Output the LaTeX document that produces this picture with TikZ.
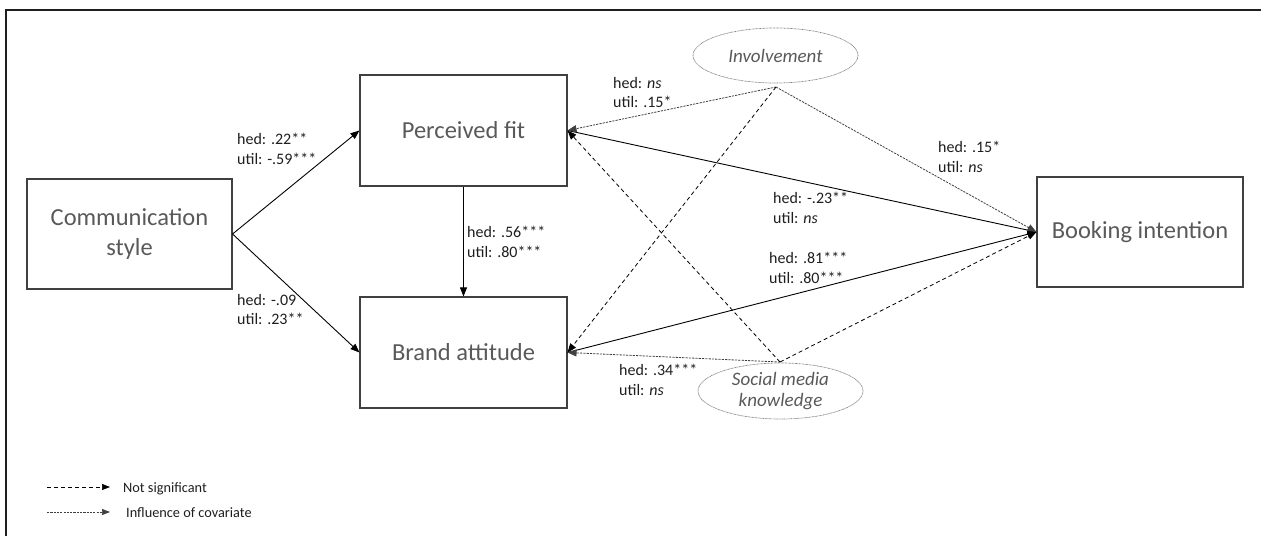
\documentclass[tikz,border=0pt]{standalone}
\usepackage{fontspec}
\setmainfont{Carlito}
\usetikzlibrary{arrows.meta,shapes.geometric}
\definecolor{boxtext}{HTML}{595959}
\definecolor{boxline}{HTML}{404040}
\definecolor{labtext}{HTML}{1E1E1E}
\definecolor{covline}{HTML}{404040}
\begin{document}
\begin{tikzpicture}[x=1pt,y=-1pt,
  varbox/.style={draw=boxline,line width=1.1pt,rectangle,inner sep=0pt,
    minimum width=206pt,minimum height=110pt,text=boxtext,align=center,
    font=\fontsize{24.5}{29.5}\selectfont},
  covell/.style={draw=gray,line width=0.7pt,dash pattern=on 0.8pt off 0.6pt,ellipse,inner sep=0pt,
    minimum width=165pt,minimum height=55pt,text=boxtext,align=center,
    font=\fontsize{19}{22}\selectfont\itshape},
  path/.style={draw=black,line width=0.9pt,-{Triangle[length=9pt,width=7pt]}},
  nsig/.style={path,dash pattern=on 4pt off 3pt,line width=0.8pt},
  cov/.style={path,dash pattern=on 2.2pt off 1.1pt,line width=0.8pt,draw=covline},
  lab/.style={anchor=north west,inner sep=0pt,align=left,text=labtext,
    font=\fontsize{16}{19.5}\selectfont},
  leg/.style={anchor=base west,inner sep=0pt,text=labtext,font=\fontsize{14.3}{17}\selectfont}]
\useasboundingbox (0,0) rectangle (1261,536);
% frame
\coordinate (fbl) at (6,536);
\coordinate (ftl) at (6,10);
\coordinate (ftr) at (1261,10);
\draw[line width=2.6pt,color=black!88] (fbl) -- (ftl) -- (ftr);

% variables
\node[varbox,minimum width=205pt] (cs) at (129.5,234) {Communication\\style};
\node[varbox,minimum width=207pt,minimum height=111pt] (pf) at (463.5,130.5) {Perceived fit};
\node[varbox,minimum width=207pt,minimum height=111pt] (ba) at (463.5,352.5) {Brand attitude};
\node[varbox] (bi) at (1140,232) {Booking intention};

% covariates
\node[covell] (inv) at (775.5,55.5) {Involvement};
\node[covell,minimum height=56pt] (smk) at (780.5,391) {Social media\\[-1pt]knowledge};
\coordinate (invb) at (776,87);
\coordinate (smkt) at (780,362);

% main paths
\draw[path] (cs.east) -- (pf.west);
\draw[path] (cs.east) -- (ba.west);
\draw[path] (pf.south) -- (ba.north);
\draw[path] (pf.east) -- (bi.west);
\draw[path] (ba.east) -- (bi.west);

% covariate paths
\draw[cov] (invb) -- (pf.east);
\draw[nsig] (invb) -- (ba.east);
\draw[cov] (invb) -- (bi.west);
\draw[cov] (smkt) -- (ba.east);
\draw[nsig] (smkt) -- (pf.east);
\draw[nsig] (smkt) -- (bi.west);

% labels
\node[lab] (l1) at (237,133) {hed: .22**\\util: -.59***};
\node[lab] (l2) at (237,294) {hed: -.09\\util: .23**};
\node[lab] (l3) at (467,226) {hed: .56***\\util: .80***};
\node[lab] (l4) at (613,77) {hed: \textit{ns}\\util: .15*};
\node[lab] (l5) at (938,141) {hed: .15*\\util: \textit{ns}};
\node[lab] (l6) at (773,192) {hed: -.23**\\util: \textit{ns}};
\node[lab] (l7) at (769,252) {hed: .81***\\util: .80***};
\node[lab] (l8) at (619,364) {hed: .34***\\util: \textit{ns}};

% legend
\coordinate (ga) at (47,487);
\coordinate (gb) at (110,487);
\coordinate (gc) at (47,512);
\coordinate (gd) at (110,512);
\draw[nsig,line width=0.7pt,-{Triangle[length=8pt,width=6pt]}] (ga) -- (gb);
\draw[cov,line width=0.7pt,-{Triangle[length=8pt,width=6pt]}] (gc) -- (gd);
\node[leg] (t1) at (123,492) {Not significant};
\node[leg] (t2) at (126,517) {Influence of covariate};
\end{tikzpicture}
\end{document}
